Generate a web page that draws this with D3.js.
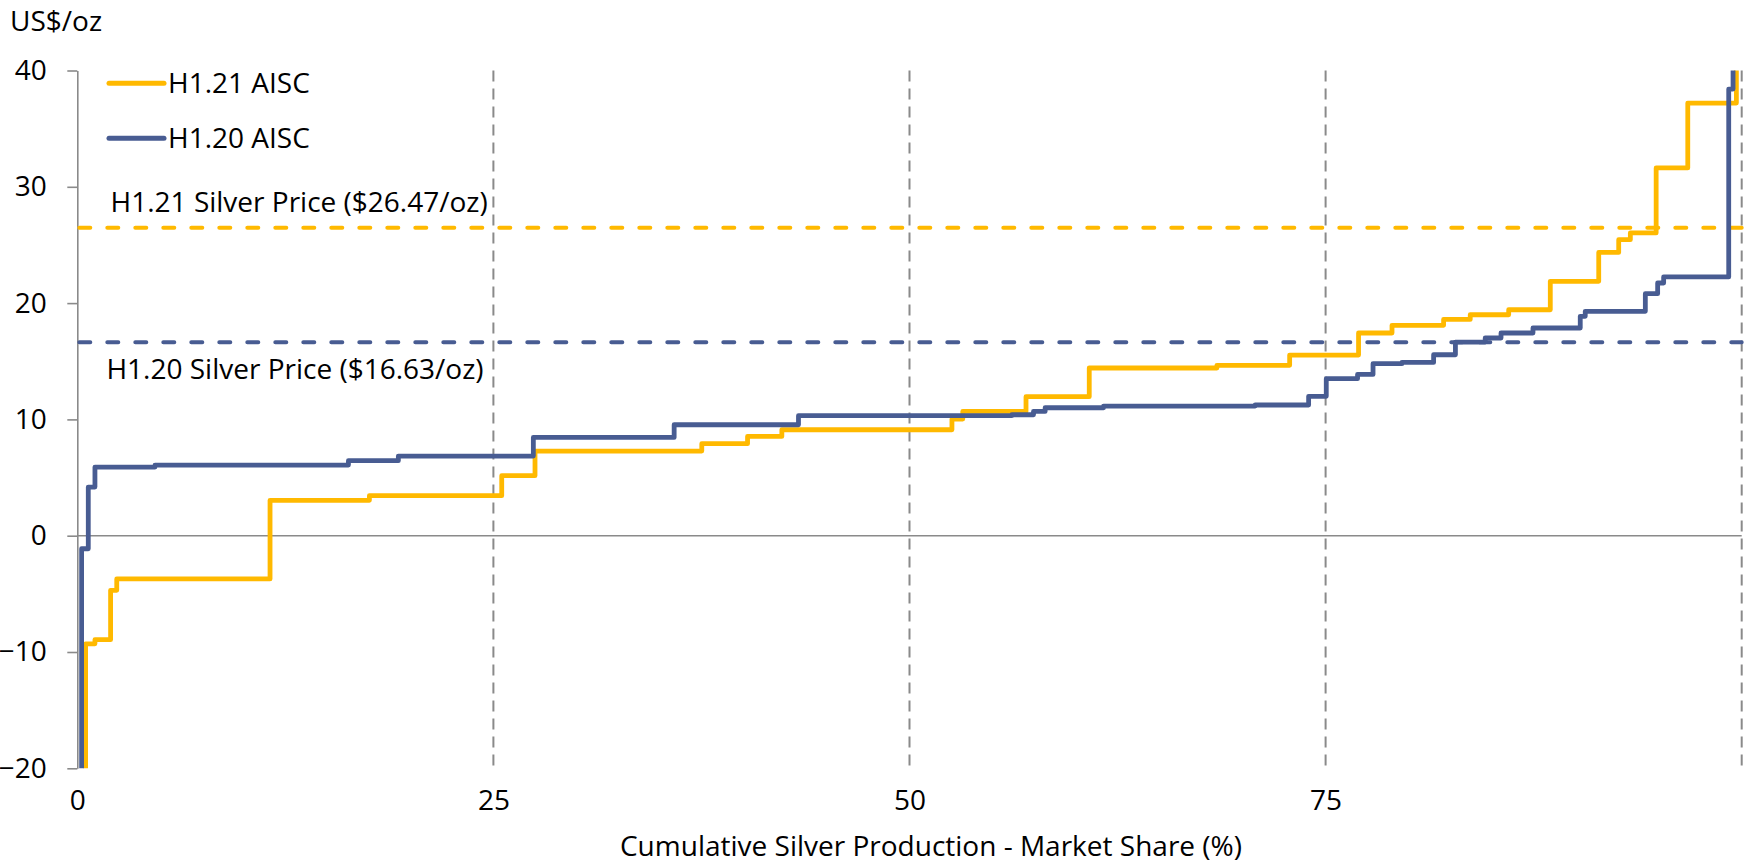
<!DOCTYPE html>
<html>
<head>
<meta charset="utf-8">
<script src="https://cdn.jsdelivr.net/npm/d3@7"></script>
<style>
  html, body { margin: 0; padding: 0; background: #fff; }
  svg { display: block; font-family: "Open Sans", sans-serif; }
</style>
</head>
<body>
<svg id="chart" width="1749" height="865"></svg>
<script>
// Silver cost curves: each point is the cumulative market share (%) where a
// producer's AISC level begins, paired with that level (US$/oz).
const h121Share = [0.50, 0.50, 1.06, 2.00, 2.37, 11.58, 17.55, 25.50, 27.50, 37.52,
  40.27, 42.33, 52.55, 53.20, 57.00, 60.80, 68.47, 72.84, 76.98, 78.99, 82.09,
  83.69, 86.00, 88.50, 91.41, 92.61, 93.31, 94.86, 96.76, 99.68, 100];
const h121Cost = [-24, -9.30, -8.94, -4.70, -3.72, 3.04, 3.44, 5.16, 7.28, 7.91,
  8.54, 9.11, 10.03, 10.69, 11.95, 14.42, 14.65, 15.53, 17.43, 18.09, 18.60,
  19.00, 19.43, 21.87, 24.36, 25.45, 26.03, 31.62, 37.20, 42, 42];

const h120Share = [0.26, 0.26, 0.66, 1.06, 4.67, 16.29, 19.29, 27.40, 35.86, 43.33,
  56.15, 57.45, 58.15, 61.66, 70.77, 73.98, 75.04, 76.92, 77.85, 79.59, 81.49,
  82.80, 84.59, 85.54, 87.46, 90.30, 90.60, 94.21, 94.95, 95.31, 99.22, 99.48, 100];
const h120Cost = [-24, -1.12, 4.18, 5.90, 6.07, 6.45, 6.85, 8.45, 9.54, 10.32,
  10.40, 10.69, 11.00, 11.15, 11.24, 11.98, 13.50, 13.87, 14.79, 14.90, 15.56,
  16.65, 17.00, 17.43, 17.86, 18.86, 19.29, 20.81, 21.73, 22.25, 38.40, 42, 42];

// Average silver prices for each half-year
const priceH121 = 26.47;
const priceH120 = 16.63;

const seriesNames = ["H1.21 AISC", "H1.20 AISC"];
const priceLabels = ["H1.21 Silver Price ($26.47/oz)", "H1.20 Silver Price ($16.63/oz)"];
const xTickValues = [0, 25, 50, 75];
const gridValues = [25, 50, 75, 100];
const yTickValues = [-20, -10, 0, 10, 20, 30, 40];
const yUnit = "US$/oz";
const xTitle = "Cumulative Silver Production - Market Share (%)";

const gold = "#FFB900";
const slate = "#485C92";
const axisGrey = "#8A8A8A";
const fontSize = 28;

const svg = d3.select("#chart");
svg.append("rect").attr("width", 1749).attr("height", 865).attr("fill", "#fff");

const x = d3.scaleLinear().domain([0, 100]).range([77.3, 1741.7]);
const y = d3.scaleLinear().domain([-20, 40]).range([768.3, 70.5]);

svg.append("defs").append("clipPath").attr("id", "plot-clip")
  .append("rect")
  .attr("x", x(0)).attr("y", y(40))
  .attr("width", x(100) - x(0)).attr("height", y(-20) - y(40));

// Vertical dashed gridlines
svg.append("g").selectAll("line").data(gridValues).join("line")
  .attr("x1", d => x(d)).attr("x2", d => x(d))
  .attr("y1", y(40)).attr("y2", y(-20))
  .attr("stroke", axisGrey).attr("stroke-width", 2)
  .attr("stroke-dasharray", "11,7");

// Zero line
svg.append("line")
  .attr("x1", x(0)).attr("x2", x(100))
  .attr("y1", y(0)).attr("y2", y(0))
  .attr("stroke", axisGrey).attr("stroke-width", 1.6);

// Y axis
const yAxis = svg.append("g")
  .attr("transform", `translate(${x(0)},0)`)
  .call(d3.axisLeft(y).tickValues(yTickValues).tickSize(10).tickPadding(20.6).tickSizeOuter(0));
yAxis.select(".domain").attr("stroke", axisGrey).attr("stroke-width", 1.6);
yAxis.selectAll(".tick line").attr("stroke", axisGrey).attr("stroke-width", 1.6);
yAxis.selectAll(".tick text")
  .attr("fill", "#000").attr("font-size", fontSize)
  .attr("font-family", "'Open Sans', sans-serif");

// X axis labels sit along the bottom of the plot
const xAxis = svg.append("g")
  .attr("transform", `translate(0,${y(-20)})`)
  .call(d3.axisBottom(x).tickValues(xTickValues).tickSize(0).tickPadding(22));
xAxis.select(".domain").remove();
xAxis.selectAll(".tick text")
  .attr("fill", "#000").attr("font-size", fontSize)
  .attr("font-family", "'Open Sans', sans-serif");

// Silver price reference lines
const prices = [
  { value: priceH121, color: gold, label: priceLabels[0], lx: 2.0, dy: -15.5 },
  { value: priceH120, color: slate, label: priceLabels[1], lx: 1.75, dy: 36.5 }
];
svg.append("g").selectAll("line").data(prices).join("line")
  .attr("x1", x(0) + 2).attr("x2", x(100))
  .attr("y1", d => y(d.value)).attr("y2", d => y(d.value))
  .attr("stroke", d => d.color).attr("stroke-width", 4)
  .attr("stroke-linecap", "round")
  .attr("stroke-dasharray", "11,17");
svg.append("g").selectAll("text").data(prices).join("text")
  .attr("x", d => x(d.lx)).attr("y", d => y(d.value) + d.dy)
  .attr("font-size", fontSize).attr("fill", "#000")
  .text(d => d.label);

// Cost curves
const line = d3.line().curve(d3.curveStepAfter)
  .x(d => x(d[0])).y(d => y(d[1]));
const curves = [
  { pts: d3.zip(h121Share, h121Cost), color: gold },
  { pts: d3.zip(h120Share, h120Cost), color: slate }
];
svg.append("g").attr("clip-path", "url(#plot-clip)")
  .selectAll("path").data(curves).join("path")
  .attr("d", d => line(d.pts))
  .attr("fill", "none").attr("stroke", d => d.color)
  .attr("stroke-width", 4.8).attr("stroke-linejoin", "round");

// Legend
const legend = svg.append("g").selectAll("g").data(seriesNames).join("g")
  .attr("transform", (d, i) => `translate(109,${83.3 + i * 55})`);
legend.append("line")
  .attr("x1", 0).attr("x2", 55).attr("y1", 0).attr("y2", 0)
  .attr("stroke", (d, i) => i === 0 ? gold : slate)
  .attr("stroke-width", 5).attr("stroke-linecap", "round");
legend.append("text")
  .attr("x", 59).attr("y", 10)
  .attr("font-size", fontSize).attr("fill", "#000")
  .text(d => d);

// Axis titles
svg.append("text").attr("x", 10).attr("y", 31)
  .attr("font-size", fontSize).attr("fill", "#000").text(yUnit);
svg.append("text").attr("x", 931).attr("y", 856)
  .attr("text-anchor", "middle")
  .attr("font-size", fontSize).attr("fill", "#000").text(xTitle);
</script>
</body>
</html>
